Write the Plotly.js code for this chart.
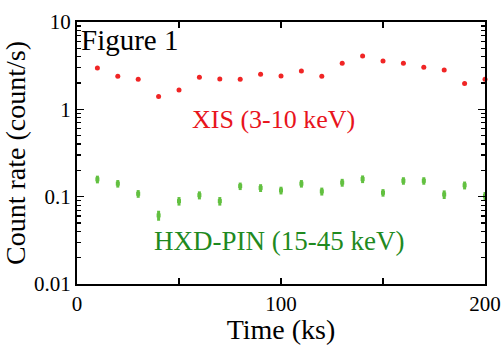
<!DOCTYPE html>
<html>
<head>
<meta charset="utf-8">
<script src="https://cdn.plot.ly/plotly-3.0.1.min.js"></script>
<style>html,body{margin:0;padding:0;background:#fff;}#chart{width:501px;height:345px;}</style>
</head>
<body>
<div id="chart"></div>
<script>
// Time (ks)
var timeKs = [10, 20, 30, 40, 50, 60, 70, 80, 90, 100, 110, 120, 130, 140, 150, 160, 170, 180, 190, 200];
// XIS (3-10 keV) count rate
var xisRate = [2.97, 2.39, 2.21, 1.40, 1.66, 2.33, 2.22, 2.21, 2.52, 2.41, 2.75, 2.39, 3.36, 4.08, 3.57, 3.36, 3.03, 2.82, 1.97, 2.21];
// HXD-PIN (15-45 keV) count rate
var pinRate = [0.158, 0.141, 0.108, 0.061, 0.089, 0.104, 0.089, 0.132, 0.126, 0.118, 0.141, 0.115, 0.145, 0.159, 0.111, 0.152, 0.152, 0.106, 0.135, 0.102];
var pinErr = [0.016, 0.014, 0.011, 0.008, 0.010, 0.011, 0.010, 0.013, 0.013, 0.012, 0.014, 0.012, 0.015, 0.016, 0.011, 0.015, 0.015, 0.012, 0.014, 0.011];
var xTickVals = [0, 50, 100, 150, 200];
var xTickText = ['0', '', '100', '', '200'];
// minor tick positions for the log axis
var minorMultipliers = [2, 3, 4, 5, 6, 7, 8, 9];
var decades = [0.01, 0.1, 1];
var yMinorVals = [];
decades.forEach(function (d) { minorMultipliers.forEach(function (m) { yMinorVals.push(m * d); }); });

var serif = 'Liberation Serif, Times New Roman, serif';

var traces = [
  {
    x: timeKs, y: xisRate, type: 'scatter', mode: 'markers', cliponaxis: false,
    marker: {color: '#f02525', size: 5},
    hoverinfo: 'skip', showlegend: false
  },
  {
    x: timeKs, y: pinRate, type: 'scatter', mode: 'markers', cliponaxis: false,
    marker: {color: '#62c040', size: 4, symbol: 'square'},
    error_y: {type: 'data', array: pinErr, visible: true, color: '#62c040', thickness: 3, width: 0},
    hoverinfo: 'skip', showlegend: false
  },
  {
    x: timeKs, y: xisRate, yaxis: 'y2', type: 'scatter', mode: 'markers',
    marker: {opacity: 0, size: 1}, hoverinfo: 'skip', showlegend: false
  }
];

var layout = {
  width: 501, height: 345,
  margin: {l: 77, r: 16, t: 22, b: 61},
  paper_bgcolor: '#fff', plot_bgcolor: '#fff',
  font: {family: serif, color: '#000'},
  xaxis: {
    range: [0, 200], tickvals: xTickVals, ticktext: xTickText,
    ticks: 'inside', ticklen: 6, tickwidth: 1.5, tickcolor: '#000',
    showline: true, linecolor: '#000', linewidth: 2, mirror: 'ticks',
    showgrid: false, zeroline: false,
    tickfont: {family: serif, size: 21, color: '#000'},
    title: {text: 'Time (ks)', font: {family: serif, size: 28, color: '#000'}, standoff: 0}
  },
  yaxis: {
    type: 'log', range: [-2, 1], tickmode: 'linear', tick0: 0, dtick: 1,
    ticks: 'inside', ticklen: 7, tickwidth: 1.5, tickcolor: '#000',
    showline: true, linecolor: '#000', linewidth: 2, mirror: 'ticks',
    showgrid: false, zeroline: false,
    tickfont: {family: serif, size: 21, color: '#000'},
    title: {text: 'Count rate (count/s)', font: {family: serif, size: 28, color: '#000'}, standoff: 2}
  },
  yaxis2: {
    type: 'log', range: [-2, 1], overlaying: 'y', side: 'left', anchor: 'x',
    tickmode: 'array', tickvals: yMinorVals, showticklabels: false,
    ticks: 'inside', ticklen: 4, tickwidth: 1.2, tickcolor: '#000',
    showline: true, linecolor: '#000', linewidth: 2, mirror: 'ticks', showgrid: false, zeroline: false
  },
  annotations: [
    {text: 'Figure 1', xref: 'paper', yref: 'paper', x: 0.005, y: 1.0, xanchor: 'left', yanchor: 'top',
     showarrow: false, font: {family: serif, size: 29, color: '#000'}},
    {text: 'XIS (3-10 keV)', xref: 'x', yref: 'paper', x: 96.5, y: 0.628, xanchor: 'center', yanchor: 'middle',
     showarrow: false, font: {family: serif, size: 26, color: '#e8141c'}},
    {text: 'HXD-PIN (15-45 keV)', xref: 'x', yref: 'paper', x: 98.8, y: 0.165, xanchor: 'center', yanchor: 'middle',
     showarrow: false, font: {family: serif, size: 27, color: '#1f8a1f'}}
  ]
};

Plotly.newPlot('chart', traces, layout, {displayModeBar: false, staticPlot: true});
</script>
</body>
</html>
